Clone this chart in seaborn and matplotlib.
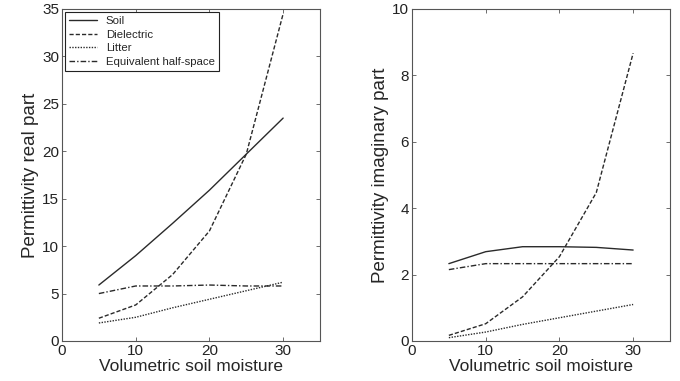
import matplotlib
matplotlib.use("Agg")
import matplotlib.pyplot as plt
import seaborn as sns
import pandas as pd

moisture = [5, 10, 15, 20, 25, 30]
labels = ["Soil", "Dielectric", "Litter", "Equivalent half-space"]

real_soil = [5.9, 9.0, 12.4, 15.9, 19.7, 23.5]
real_dielectric = [2.4, 3.8, 7.0, 11.6, 19.7, 34.5]
real_litter = [1.9, 2.5, 3.5, 4.4, 5.3, 6.2]
real_equiv = [5.0, 5.8, 5.8, 5.9, 5.8, 5.8]

imag_soil = [2.33, 2.69, 2.84, 2.84, 2.82, 2.74]
imag_dielectric = [0.17, 0.52, 1.33, 2.54, 4.47, 8.67]
imag_litter = [0.10, 0.27, 0.50, 0.70, 0.90, 1.10]
imag_equiv = [2.15, 2.33, 2.33, 2.33, 2.33, 2.33]

sns.set_style("ticks")
plt.rcParams['font.family'] = ['Liberation Sans', 'DejaVu Sans']
plt.rcParams['xtick.direction'] = 'in'
plt.rcParams['ytick.direction'] = 'in'

styles = ['-', (0, (3, 1.5)), (0, (1, 1)), (0, (4, 1.5, 1, 1.5))]
line_color = '#2a2a2a'

fig = plt.figure(figsize=(6.8, 3.81), dpi=100)
ax1 = fig.add_axes([62/680, 40/381, 258/680, 332/381])
ax2 = fig.add_axes([412/680, 40/381, 258/680, 332/381])

def draw(ax, series, ylim, yticks, ylabel, legend):
    for lab, vals, ls in zip(labels, series, styles):
        df = pd.DataFrame({"x": moisture, "y": vals})
        sns.lineplot(data=df, x="x", y="y", ax=ax, color=line_color,
                     linestyle=ls, linewidth=1.0, label=lab if legend else None,
                     legend=False)
    ax.set_xlim(0, 35)
    ax.set_ylim(*ylim)
    ax.set_xticks([0, 10, 20, 30])
    ax.set_yticks(yticks)
    ax.set_xlabel("Volumetric soil moisture", fontsize=12.5, labelpad=1)
    ax.set_ylabel(ylabel, fontsize=13.5, labelpad=2)
    ax.tick_params(axis='both', which='both', direction='in', top=True, right=True,
                   labelsize=11, length=3, width=0.6, colors='#555555', labelcolor='#222222',
                   pad=2)
    for sp in ax.spines.values():
        sp.set_visible(True)
        sp.set_linewidth(0.8)
        sp.set_color('#555555')

draw(ax1, [real_soil, real_dielectric, real_litter, real_equiv], (0, 35),
     [0, 5, 10, 15, 20, 25, 30, 35], "Permittivity real part", True)
draw(ax2, [imag_soil, imag_dielectric, imag_litter, imag_equiv], (0, 10),
     [0, 2, 4, 6, 8, 10], "Permittivity imaginary part", False)

leg = ax1.legend(loc='upper left', fontsize=8.2, frameon=True, fancybox=False,
                 edgecolor='#222222', borderpad=0.35, labelspacing=0.3,
                 handlelength=2.4, handletextpad=0.8, borderaxespad=0.3)
leg.get_frame().set_linewidth(0.8)
leg.get_frame().set_alpha(1)

fig.savefig("out.png", dpi=100)
